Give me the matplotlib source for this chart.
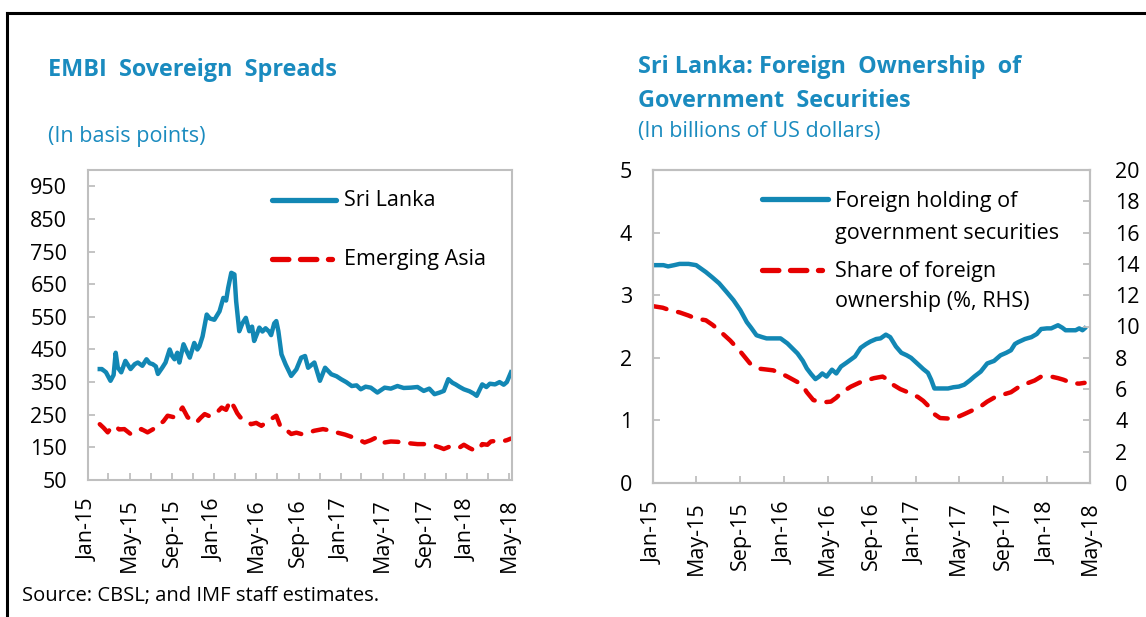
import pandas as pd
import matplotlib.pyplot as plt
import matplotlib.dates as mdates
from matplotlib.lines import Line2D

plt.rcParams['font.family'] = ['Open Sans', 'DejaVu Sans']

# ---- data: EMBI spreads (basis points) ----
sl_dates = ['2015-02-04', '2015-02-10', '2015-02-22', '2015-03-07', '2015-03-16', '2015-03-22',
            '2015-03-28', '2015-04-07', '2015-04-19', '2015-05-04', '2015-05-16', '2015-05-25',
            '2015-06-07', '2015-06-19', '2015-06-28', '2015-07-07', '2015-07-16', '2015-07-22',
            '2015-08-04', '2015-08-13', '2015-08-25', '2015-09-01', '2015-09-08', '2015-09-16',
            '2015-09-22', '2015-10-04', '2015-10-13', '2015-10-22', '2015-11-04', '2015-11-13',
            '2015-11-19', '2015-11-28', '2015-12-10', '2015-12-19', '2016-01-01', '2016-01-16',
            '2016-01-27', '2016-02-04', '2016-02-10', '2016-02-19', '2016-02-28', '2016-03-04',
            '2016-03-13', '2016-03-22', '2016-04-01', '2016-04-11', '2016-04-19', '2016-04-25',
            '2016-05-04', '2016-05-10', '2016-05-19', '2016-05-28', '2016-06-07', '2016-06-13',
            '2016-06-22', '2016-06-28', '2016-07-04', '2016-07-13', '2016-07-25', '2016-08-10',
            '2016-08-25', '2016-09-08', '2016-09-19', '2016-09-28', '2016-10-16', '2016-11-01',
            '2016-11-16', '2016-12-04', '2016-12-19', '2017-01-01', '2017-01-16', '2017-02-01',
            '2017-02-15', '2017-02-27', '2017-03-13', '2017-03-28', '2017-04-16', '2017-05-07',
            '2017-05-25', '2017-06-13', '2017-07-01', '2017-07-22', '2017-08-10', '2017-08-28',
            '2017-09-13', '2017-09-28', '2017-10-13', '2017-10-25', '2017-11-07', '2017-11-19',
            '2017-11-28', '2017-12-10', '2017-12-22', '2018-01-07', '2018-01-19', '2018-01-28',
            '2018-02-07', '2018-02-13', '2018-02-25', '2018-03-07', '2018-03-22', '2018-04-04',
            '2018-04-16', '2018-04-25', '2018-05-07']
sri_lanka = [390, 390, 380, 354, 372, 440,
             395, 380, 415, 390, 405, 410,
             400, 420, 408, 405, 398, 375,
             395, 410, 450, 430, 420, 440,
             410, 466, 445, 425, 470, 450,
             460, 490, 557, 545, 541, 567,
             608, 600, 639, 685, 680, 598,
             506, 530, 547, 506, 520, 476,
             500, 517, 505, 515, 505, 494,
             530, 537, 506, 435, 404, 369,
             389, 425, 430, 394, 410, 354,
             394, 374, 368, 359, 350, 338,
             340, 328, 336, 333, 318, 333,
             330, 338, 332, 333, 335, 323,
             330, 313, 318, 323, 359, 348,
             343, 335, 328, 322, 315, 308,
             330, 343, 335, 345, 343, 350,
             342, 350, 380]

ea_dates = ['2015-02-04', '2015-02-15', '2015-02-27', '2015-03-10', '2015-03-19', '2015-04-01',
            '2015-04-16', '2015-05-04', '2015-05-19', '2015-06-04', '2015-06-22', '2015-07-07',
            '2015-07-22', '2015-08-07', '2015-08-19', '2015-09-08', '2015-09-19', '2015-10-01',
            '2015-10-16', '2015-10-28', '2015-11-10', '2015-11-22', '2015-12-04', '2015-12-19',
            '2016-01-01', '2016-01-13', '2016-01-22', '2016-02-04', '2016-02-16', '2016-02-28',
            '2016-03-07', '2016-03-16', '2016-04-01', '2016-04-16', '2016-05-01', '2016-05-16',
            '2016-06-01', '2016-06-13', '2016-06-28', '2016-07-11', '2016-07-25', '2016-08-10',
            '2016-08-25', '2016-09-08', '2016-09-28', '2016-10-16', '2016-11-10', '2016-12-04',
            '2016-12-22', '2017-01-13', '2017-02-01', '2017-02-19', '2017-03-10', '2017-03-28',
            '2017-04-16', '2017-05-07', '2017-05-25', '2017-06-13', '2017-07-01', '2017-07-22',
            '2017-08-10', '2017-08-28', '2017-09-13', '2017-09-28', '2017-10-13', '2017-10-25',
            '2017-11-10', '2017-11-25', '2017-12-10', '2017-12-22', '2018-01-07', '2018-01-19',
            '2018-01-28', '2018-02-07', '2018-02-13', '2018-02-28', '2018-03-10', '2018-03-25',
            '2018-04-10', '2018-04-25', '2018-05-07']
emerging_asia = [221, 210, 196, 212, 216, 205,
                 206, 191, 200, 206, 196, 205,
                 216, 230, 247, 242, 255, 272,
                 242, 235, 226, 240, 252, 245,
                 257, 262, 272, 265, 294, 272,
                 255, 242, 235, 221, 225, 216,
                 228, 237, 247, 211, 205, 191,
                 195, 191, 195, 201, 206, 201,
                 195, 189, 182, 175, 165, 172,
                 182, 165, 168, 167, 165, 162,
                 160, 160, 158, 155, 150, 145,
                 152, 155, 150, 158, 148, 142,
                 140, 150, 160, 158, 168, 170,
                 168, 172, 177]

# ---- data: foreign ownership of government securities ----
fh_dates = ['2015-01-01', '2015-01-30', '2015-02-12', '2015-03-01', '2015-03-16', '2015-04-10',
            '2015-05-01', '2015-05-28', '2015-06-16', '2015-07-04', '2015-07-25', '2015-08-13',
            '2015-09-01', '2015-09-19', '2015-10-01', '2015-10-16', '2015-11-01', '2015-11-13',
            '2015-12-01', '2015-12-22', '2016-01-10', '2016-02-07', '2016-02-22', '2016-03-04',
            '2016-03-16', '2016-03-28', '2016-04-07', '2016-04-16', '2016-04-28', '2016-05-13',
            '2016-05-25', '2016-06-07', '2016-06-22', '2016-07-04', '2016-07-16', '2016-08-01',
            '2016-08-16', '2016-08-28', '2016-09-13', '2016-09-25', '2016-10-10', '2016-10-22',
            '2016-11-07', '2016-11-22', '2016-12-07', '2016-12-19', '2017-01-07', '2017-01-22',
            '2017-02-04', '2017-02-13', '2017-02-22', '2017-03-10', '2017-04-01', '2017-04-16',
            '2017-05-01', '2017-05-16', '2017-06-01', '2017-06-13', '2017-07-01', '2017-07-19',
            '2017-08-07', '2017-08-25', '2017-09-10', '2017-09-23', '2017-10-04', '2017-10-13',
            '2017-11-01', '2017-11-19', '2017-12-04', '2017-12-16', '2018-01-01', '2018-01-13',
            '2018-02-01', '2018-02-13', '2018-02-22', '2018-03-07', '2018-03-22', '2018-04-01',
            '2018-04-10', '2018-04-16']
foreign_holding = [3.48, 3.48, 3.46, 3.48, 3.50, 3.50,
                   3.48, 3.37, 3.28, 3.19, 3.05, 2.92,
                   2.76, 2.57, 2.48, 2.36, 2.33, 2.31,
                   2.31, 2.31, 2.23, 2.07, 1.95, 1.83,
                   1.74, 1.66, 1.70, 1.75, 1.70, 1.81,
                   1.75, 1.86, 1.92, 1.97, 2.02, 2.16,
                   2.22, 2.26, 2.30, 2.31, 2.37, 2.33,
                   2.18, 2.08, 2.04, 2.00, 1.90, 1.82,
                   1.76, 1.65, 1.51, 1.51, 1.51, 1.53,
                   1.54, 1.57, 1.64, 1.70, 1.78, 1.91,
                   1.95, 2.04, 2.08, 2.12, 2.22, 2.25,
                   2.30, 2.33, 2.38, 2.46, 2.47, 2.47,
                   2.52, 2.48, 2.44, 2.44, 2.44, 2.47,
                   2.44, 2.47]

fs_dates = ['2015-01-01', '2015-01-28', '2015-02-16', '2015-03-16', '2015-04-10', '2015-05-01',
            '2015-05-28', '2015-06-16', '2015-07-04', '2015-08-04', '2015-09-01', '2015-09-28',
            '2015-10-25', '2015-11-13', '2015-12-01', '2015-12-19', '2016-01-10', '2016-02-07',
            '2016-02-22', '2016-03-04', '2016-03-22', '2016-04-16', '2016-05-10', '2016-05-25',
            '2016-06-07', '2016-07-04', '2016-08-01', '2016-09-07', '2016-10-01', '2016-10-16',
            '2016-11-01', '2016-11-19', '2016-12-10', '2017-01-07', '2017-01-22', '2017-02-04',
            '2017-02-22', '2017-03-10', '2017-04-16', '2017-05-16', '2017-06-13', '2017-07-01',
            '2017-07-19', '2017-08-07', '2017-08-25', '2017-09-23', '2017-10-19', '2017-11-28',
            '2017-12-16', '2018-01-13', '2018-02-01', '2018-02-16', '2018-03-13', '2018-04-01',
            '2018-04-16']
foreign_share = [11.3, 11.2, 11.05, 10.9, 10.7, 10.5,
                 10.4, 10.1, 9.75, 9.1, 8.4, 7.64,
                 7.3, 7.25, 7.2, 7.05, 6.8, 6.45,
                 6.2, 5.8, 5.3, 5.15, 5.2, 5.45,
                 5.75, 6.15, 6.45, 6.7, 6.8, 6.6,
                 6.25, 6.0, 5.8, 5.5, 5.25, 4.95,
                 4.4, 4.15, 4.1, 4.4, 4.7, 4.9,
                 5.2, 5.45, 5.6, 5.8, 6.2, 6.55,
                 6.8, 6.8, 6.7, 6.6, 6.37, 6.35,
                 6.4]

blue = '#1287b4'
red = '#e60000'
title_blue = '#1a8bbf'
grey = '#bfbfbf'

W, H = 1146, 617
fig = plt.figure(figsize=(W / 100, H / 100), dpi=100)


def fx(x):
    return x / W


def fy(y):
    return 1 - y / H


def style_axis(ax):
    for s in ax.spines.values():
        s.set_color(grey)
        s.set_linewidth(1.5)
    ax.tick_params(which='both', direction='in', length=5, width=1.3, color=grey,
                   labelsize=15.5, labelcolor='black')
    ax.tick_params(axis='y', pad=15)
    ax.tick_params(axis='x', pad=13, rotation=90)
    ax.xaxis.set_major_formatter(mdates.DateFormatter('%b-%y'))


# ---- left chart ----
ax1 = fig.add_axes([fx(88), fy(480), fx(512) - fx(88), fy(170) - fy(480)])
ax1.plot(pd.to_datetime(sl_dates), sri_lanka, color=blue, lw=3.2, solid_joinstyle='round')
ax1.plot(pd.to_datetime(ea_dates), emerging_asia, color=red, lw=3.2,
         linestyle=(0, (3.1, 2.7)), dash_capstyle='round')
ax1.set_xlim(pd.Timestamp('2015-01-01'), pd.Timestamp('2018-05-10'))
ax1.set_ylim(50, 1000)
ax1.set_yticks(range(50, 1000, 100))
ax1.xaxis.set_major_locator(mdates.MonthLocator(bymonth=[1, 5, 9]))
ax1.xaxis.set_minor_locator(mdates.MonthLocator(bymonth=[3, 7, 11]))
style_axis(ax1)

# ---- right chart ----
ax2 = fig.add_axes([fx(653), fy(483), fx(1090) - fx(653), fy(170) - fy(483)])
ax3 = ax2.twinx()
ax2.plot(pd.to_datetime(fh_dates), foreign_holding, color=blue, lw=3.2, solid_joinstyle='round')
ax3.plot(pd.to_datetime(fs_dates), foreign_share, color=red, lw=3.2,
         linestyle=(0, (3.1, 2.7)), dash_capstyle='round')
ax2.set_xlim(pd.Timestamp('2015-01-01'), pd.Timestamp('2018-05-01'))
ax2.set_ylim(0, 5)
ax2.set_yticks(range(0, 6))
ax3.set_ylim(0, 20)
ax3.set_yticks(range(0, 21, 2))
ax2.xaxis.set_major_locator(mdates.MonthLocator(bymonth=[1, 5, 9]))
style_axis(ax2)
style_axis(ax3)
ax3.tick_params(axis='y', pad=18)

# ---- legends ----
def legend_line(x0, x1, y, color, dashed=False):
    ln = Line2D([fx(x0), fx(x1)], [fy(y), fy(y)], transform=fig.transFigure, color=color, lw=3.8,
                solid_capstyle='round', dash_capstyle='round')
    if dashed:
        ln.set_linestyle((0, (3.1, 2.2)))
    fig.add_artist(ln)


leg_fs = 15.5
legend_line(272, 336, 200, blue)
fig.text(fx(344), fy(200), 'Sri Lanka', fontsize=leg_fs, va='center')
legend_line(272, 332, 259, red, dashed=True)
fig.text(fx(344), fy(259), 'Emerging Asia', fontsize=leg_fs, va='center')

legend_line(762, 828, 199, blue)
fig.text(fx(835), fy(201), 'Foreign holding of', fontsize=leg_fs, va='center')
fig.text(fx(835), fy(233), 'government securities', fontsize=leg_fs, va='center')
legend_line(762, 822, 270, red, dashed=True)
fig.text(fx(835), fy(271), 'Share of foreign', fontsize=leg_fs, va='center')
fig.text(fx(835), fy(302), 'ownership (%, RHS)', fontsize=leg_fs, va='center')

# ---- titles ----
fig.text(fx(48), fy(70), 'EMBI  Sovereign  Spreads', fontsize=16.8, fontweight='bold',
         color=title_blue, va='center')
fig.text(fx(48), fy(136), '(In basis points)', fontsize=15.5, color=title_blue, va='center')
fig.text(fx(638), fy(67), 'Sri Lanka: Foreign  Ownership  of', fontsize=16.8, fontweight='bold',
         color=title_blue, va='center')
fig.text(fx(638), fy(101), 'Government  Securities', fontsize=16.8, fontweight='bold',
         color=title_blue, va='center')
fig.text(fx(638), fy(132), '(In billions of US dollars)', fontsize=15.5, color=title_blue,
         va='center')

fig.text(fx(22), fy(596), 'Source: CBSL; and IMF staff estimates.', fontsize=14.5, va='center')

# frame
fig.add_artist(Line2D([fx(7), 1], [fy(13), fy(13)], transform=fig.transFigure, color='black', lw=2.2))
fig.add_artist(Line2D([fx(7), fx(7)], [0, fy(13)], transform=fig.transFigure, color='black', lw=2.2))

fig.savefig('out.png', dpi=100)
